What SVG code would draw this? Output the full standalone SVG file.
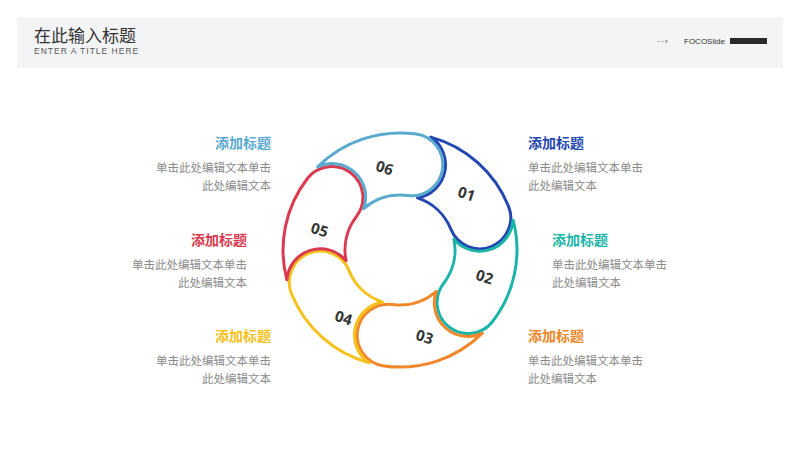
<svg xmlns="http://www.w3.org/2000/svg" width="800" height="450" viewBox="0 0 800 450">
<style>
.seg{fill:#fff;stroke-width:3;stroke-linejoin:round}
.num{font-family:"Open Sans","Noto Sans",sans-serif;font-weight:bold;font-size:15px;fill:#333;text-anchor:middle}
.t{font-family:"Noto Sans CJK SC",sans-serif;font-weight:bold;font-size:14px}
.d{font-family:"Noto Sans CJK SC",sans-serif;font-size:11.5px;fill:#8a8a8a}
.r{text-anchor:end}
</style>
<rect x="17" y="17" width="766" height="51" fill="#f3f4f5"/>
<text x="34" y="42" font-family="Noto Sans CJK SC,sans-serif" font-size="17" fill="#333">在此输入标题</text>
<text x="34" y="54" font-family="Liberation Sans,sans-serif" font-size="8.5" fill="#555" letter-spacing="1">ENTER A TITLE HERE</text>
<text x="657" y="44" font-family="Liberation Sans,sans-serif" font-size="8" fill="#333">···›</text>
<text x="684" y="44" font-family="Liberation Sans,sans-serif" font-size="8" fill="#333">FOCOSlide</text>
<rect x="730" y="38" width="37" height="6" fill="#2a2a2a"/>
<g id="seg01"><path class="seg" stroke="#2347b0" d="M430.8,137.1 A117,117 0 0 1 508.5,206.2 A31,31 0 0 1 451,229.4 A55,55 0 0 0 417.5,197.9 A33.5,33.5 0 0 0 430.8,137.1 Z"/><text class="num" transform="translate(465,199) rotate(18)">01</text></g>
<g id="seg02"><path class="seg" stroke="#1ab5a8" d="M513.1,220.2 A117,117 0 0 1 492.2,322 A31,31 0 0 1 443.3,283.9 A55,55 0 0 0 453.9,239.1 A33.5,33.5 0 0 0 513.1,220.2 Z"/><text class="num" transform="translate(483,282) rotate(18)">02</text></g>
<g id="seg03"><path class="seg" stroke="#f0872a" d="M482.4,333.1 A117,117 0 0 1 383.7,365.9 A31,31 0 0 1 392.3,304.5 A55,55 0 0 0 436.4,291.3 A33.5,33.5 0 0 0 482.4,333.1 Z"/><text class="num" transform="translate(423,342) rotate(18)">03</text></g>
<g id="seg04"><path class="seg" stroke="#f5c11a" d="M369.2,362.9 A117,117 0 0 1 291.5,293.8 A31,31 0 0 1 349,270.6 A55,55 0 0 0 382.5,302.1 A33.5,33.5 0 0 0 369.2,362.9 Z"/><text class="num" transform="translate(342,323) rotate(18)">04</text></g>
<g id="seg05"><path class="seg" stroke="#d93a4f" d="M286.9,279.8 A117,117 0 0 1 307.8,178 A31,31 0 0 1 356.7,216.1 A55,55 0 0 0 346.1,260.9 A33.5,33.5 0 0 0 286.9,279.8 Z"/><text class="num" transform="translate(318,235) rotate(18)">05</text></g>
<g id="seg06"><path class="seg" stroke="#5aaad0" d="M317.6,166.9 A117,117 0 0 1 416.3,134.1 A31,31 0 0 1 407.7,195.5 A55,55 0 0 0 363.6,208.7 A33.5,33.5 0 0 0 317.6,166.9 Z"/><text class="num" transform="translate(383,173) rotate(18)">06</text></g>
<g id="txt1"><text class="t" x="528" y="148" fill="#2347b0">添加标题</text><text class="d" x="528" y="172">单击此处编辑文本单击</text><text class="d" x="528" y="190">此处编辑文本</text></g>
<g id="txt2"><text class="t" x="552" y="245" fill="#1ab5a8">添加标题</text><text class="d" x="552" y="269">单击此处编辑文本单击</text><text class="d" x="552" y="287">此处编辑文本</text></g>
<g id="txt3"><text class="t" x="528" y="341" fill="#f0872a">添加标题</text><text class="d" x="528" y="365">单击此处编辑文本单击</text><text class="d" x="528" y="383">此处编辑文本</text></g>
<g id="txt4"><text class="t r" x="271" y="341" fill="#f5c11a">添加标题</text><text class="d r" x="271" y="365">单击此处编辑文本单击</text><text class="d r" x="271" y="383">此处编辑文本</text></g>
<g id="txt5"><text class="t r" x="247" y="245" fill="#d93a4f">添加标题</text><text class="d r" x="247" y="269">单击此处编辑文本单击</text><text class="d r" x="247" y="287">此处编辑文本</text></g>
<g id="txt6"><text class="t r" x="271" y="148" fill="#5aaad0">添加标题</text><text class="d r" x="271" y="172">单击此处编辑文本单击</text><text class="d r" x="271" y="190">此处编辑文本</text></g>
</svg>
